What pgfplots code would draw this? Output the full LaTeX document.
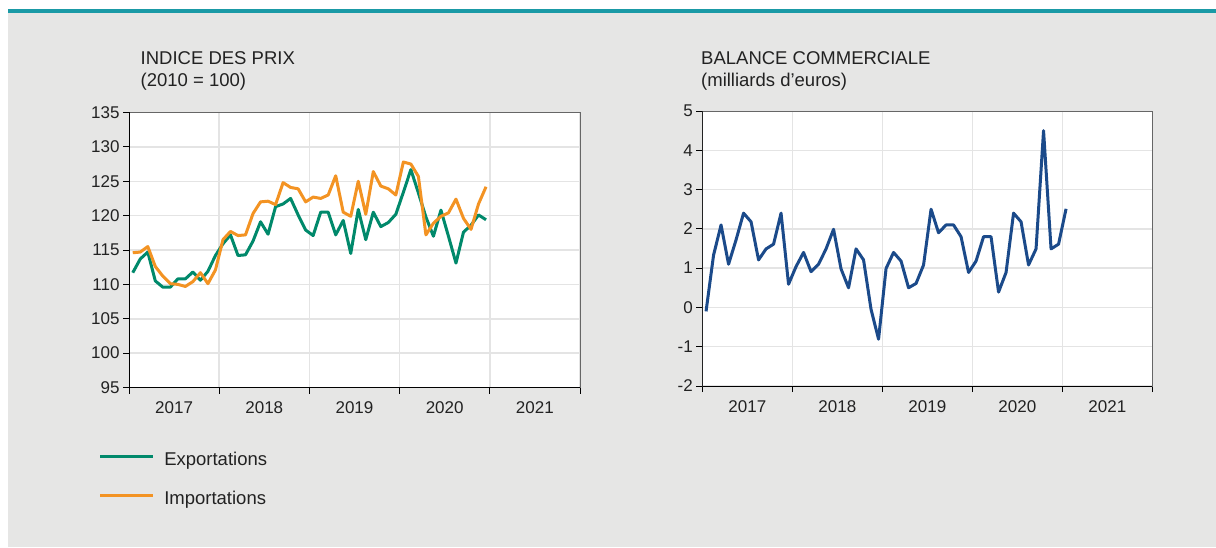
\documentclass[border=0pt]{standalone}
\usepackage{fontspec}
\setmainfont{Liberation Sans}
\usepackage{pgfplots}
\usepackage{pgfplotstable}
\pgfplotsset{compat=1.18}

\definecolor{fond}{HTML}{E6E6E5}
\definecolor{filet}{HTML}{1A9AA6}
\definecolor{expo}{HTML}{00896B}
\definecolor{impo}{HTML}{F39323}
\definecolor{bal}{HTML}{1B4A8A}
\definecolor{grille}{HTML}{E4E4E4}
\definecolor{txt}{HTML}{222222}

% indices mensuels, janv. 2017 - dec. 2020
\pgfplotstableread{
exp imp
111.7 114.6
113.7 114.7
114.7 115.5
110.5 112.6
109.6 111.2
109.6 110.1
110.8 110.0
110.8 109.7
111.8 110.4
110.6 111.7
111.9 110.1
114.2 112.1
115.9 116.5
117.2 117.7
114.2 117.1
114.3 117.2
116.3 120.3
119.1 122.0
117.3 122.1
121.3 121.6
121.7 124.8
122.5 124.1
120.1 123.9
117.9 122.0
117.1 122.7
120.5 122.5
120.5 123.0
117.2 125.8
119.3 120.5
114.5 119.9
120.9 125.0
116.5 120.2
120.5 126.4
118.4 124.3
119.0 123.9
120.2 123.0
123.4 127.8
126.7 127.5
123.3 125.7
119.8 117.2
117.0 118.9
120.8 119.9
117.0 120.4
113.1 122.4
117.6 119.6
118.6 118.0
120.1 121.7
119.4 124.2
}\prix

% solde mensuel, janv. 2017 - janv. 2021
\pgfplotstableread{
bal
-0.10
1.33
2.10
1.10
1.72
2.40
2.18
1.21
1.49
1.61
2.40
0.59
1.04
1.40
0.91
1.10
1.49
1.99
0.98
0.50
1.49
1.21
-0.05
-0.81
0.99
1.40
1.18
0.50
0.61
1.08
2.50
1.90
2.10
2.10
1.80
0.89
1.18
1.80
1.80
0.39
0.89
2.40
2.18
1.08
1.49
4.50
1.49
1.61
2.51
}\balance

\pgfplotsset{
  panneau/.style={
    scale only axis,
    width=450pt, height=275pt,
    anchor=south west,
    xmin=0, xmax=60,
    xtick={0,12,...,60},
    xticklabels={2017,2018,2019,2020,2021},
    x tick label as interval,
    xtick pos=bottom, ytick pos=left,
    tick align=outside,
    major tick length=6pt,
    grid=major,
    major grid style={grille, line width=1.5pt},
    axis background/.style={fill=white},
    axis line style={black!60, line width=0.8pt},
    tick style={black, line width=0.9pt},
    tick label style={font=\fontsize{17}{20}\selectfont, text=txt},
    xticklabel style={yshift=-5pt},
    /pgf/number format/assume math mode=true,
    every axis plot/.append style={line width=3pt, line join=round},
  },
}

\begin{document}
\begin{tikzpicture}[x=1pt, y=1pt]
\fill[white] (0,0) rectangle (1216,547);
\fill[fond] (8,0) rectangle (1216,534);
\fill[filet] (8,534) rectangle (1216,537.5);

\node[anchor=base west, inner sep=0pt, text=txt, font=\fontsize{18.5}{22}\selectfont] at (140.5,482) {INDICE DES PRIX};
\node[anchor=base west, inner sep=0pt, text=txt, font=\fontsize{18.5}{22}\selectfont] at (140.5,460) {(2010 = 100)};
\node[anchor=base west, inner sep=0pt, text=txt, font=\fontsize{18.5}{22}\selectfont] at (701,482) {BALANCE COMMERCIALE};
\node[anchor=base west, inner sep=0pt, text=txt, font=\fontsize{18.5}{22}\selectfont] at (701,460) {(milliards d’euros)};

\begin{axis}[panneau,
  at={(129pt,159.5pt)}, width=451pt,
  ymin=95, ymax=135, ytick={95,100,...,135},
  legend style={at={(axis description cs:-0.0675,-0.236)}, anchor=north west,
    draw=none, fill=none, inner sep=0pt, row sep=21pt,
    font=\fontsize{18.5}{22}\selectfont, text=txt,
    nodes={inner sep=0pt, text height=13pt, text depth=5pt}},
  legend cell align=left,
  legend image code/.code={%
    \path[draw=none] (0pt,5.5pt) -- (64pt,5.5pt);
    \draw[#1, line width=3pt] (0pt,5.5pt) -- (52.6pt,5.5pt);},
]
\addplot[expo] table[x expr=\coordindex+0.5, y=exp] {\prix};
\addlegendentry{Exportations}
\addplot[impo] table[x expr=\coordindex+0.5, y=imp] {\prix};
\addlegendentry{Importations}
\draw[black, line width=1pt] (rel axis cs:0,1) -- (rel axis cs:0,0) -- (rel axis cs:1,0);
\end{axis}

\begin{axis}[panneau,
  at={(702.3pt,161pt)},
  ymin=-2, ymax=5, ytick={-2,-1,...,5},
]
\addplot[bal] table[x expr=\coordindex+0.5, y=bal] {\balance};
\draw[black, line width=1pt] (rel axis cs:0,1) -- (rel axis cs:0,0) -- (rel axis cs:1,0);
\end{axis}
\end{tikzpicture}
\end{document}
